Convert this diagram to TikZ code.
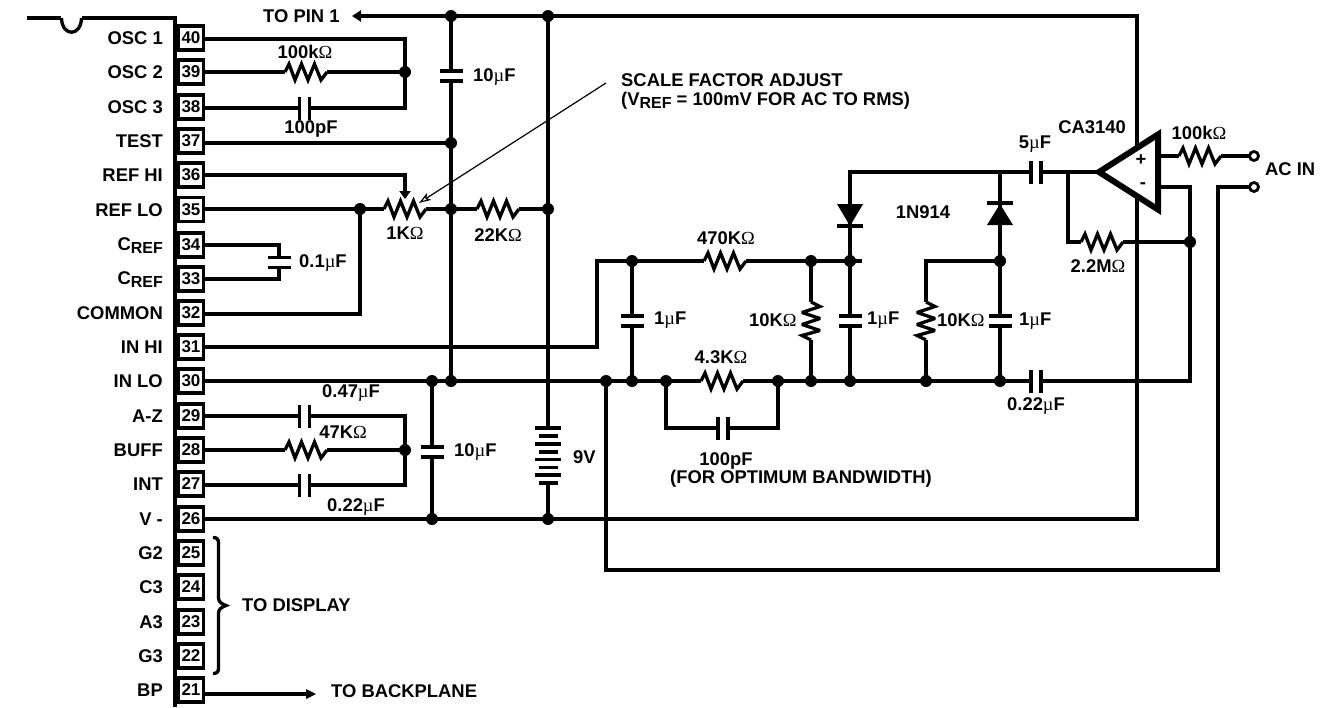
\documentclass[tikz,border=0pt]{standalone}
\usepackage{fontspec}
\setmainfont{Liberation Sans}
\newfontfamily\symf{Liberation Serif}
\usetikzlibrary{arrows.meta,calc}
\newcommand{\Om}{{\symf\mdseries Ω}}
\newcommand{\mic}{{\symf\mdseries µ}}
\newcommand{\ssub}[1]{\raisebox{-3.5pt}{\fontsize{16}{16}\selectfont #1}}
\tikzset{
  wire/.style={line width=3.3pt,line join=miter},
  pinbox/.style={draw,line width=3.6pt,fill=white,minimum width=25pt,minimum height=24pt,inner sep=0pt,font=\fontsize{17}{17}\selectfont\bfseries},
  lbl/.style={inner sep=0pt,font=\fontsize{18.4}{19}\selectfont\bfseries},
  pinlbl/.style={lbl,anchor=base east},
  dot/.style={circle,fill=black,inner sep=0pt,minimum size=12pt},
  term/.style={circle,draw,line width=2.8pt,fill=white,inner sep=0pt,minimum size=9pt},
  plate/.style={line width=3.4pt}
}
% horizontal resistor centred at x,y: name-a, name-b
\newcommand{\resH}[3]{%
  \coordinate (#1-a) at (#2-21,#3); \coordinate (#1-b) at (#2+21,#3);
  \draw[wire,line join=miter,miter limit=3] (#1-a) -- (#2-17,#3-8) -- (#2-11,#3+8) -- (#2-4.5,#3-8) -- (#2+2,#3+8) -- (#2+8.5,#3-8) -- (#2+15,#3+8) -- (#1-b);}
\newcommand{\resV}[3]{%
  \coordinate (#1-a) at (#2,#3-19); \coordinate (#1-b) at (#2,#3+19);
  \draw[wire,line join=miter,miter limit=3] (#1-a) -- (#2+9,#3-14.5) -- (#2-9,#3-8.5) -- (#2+9,#3-2.5) -- (#2-9,#3+3.5) -- (#2+9,#3+9.5) -- (#2-9,#3+14.5) -- (#1-b);}
\newcommand{\capH}[3]{%
  \coordinate (#1-a) at (#2-5,#3); \coordinate (#1-b) at (#2+5,#3);
  \draw[plate] (#2-5,#3-11.5) -- (#2-5,#3+11.5) (#2+5,#3-11.5) -- (#2+5,#3+11.5);}
\newcommand{\capV}[3]{%
  \coordinate (#1-a) at (#2,#3-5); \coordinate (#1-b) at (#2,#3+5);
  \draw[plate] (#2-11.5,#3-5) -- (#2+11.5,#3-5) (#2-11.5,#3+5) -- (#2+11.5,#3+5);}
\begin{document}
\begin{tikzpicture}[x=1pt,y=-1pt]
\useasboundingbox (0,0) rectangle (1328,707);
\fill[white] (0,0) rectangle (1328,707);

% IC body
\draw[wire] (27,18) -- (61,18) (82,18) -- (175,18) -- (175,707);
\draw[wire] (61.5,18) .. controls (62,37) and (81,37) .. (81.5,18);
\foreach \n/\y in {40/38,39/72,38/107,37/141,36/175,35/209.5,34/245,33/279,32/313,31/347,30/381,29/416,28/450,27/484,26/519,25/553,24/587,23/622,22/656,21/690}
  \node[pinbox] (p\n) at (191,\y) {\n};
\foreach \t/\y in {OSC 1/44,OSC 2/78,OSC 3/113,TEST/147,REF HI/181,REF LO/216,COMMON/319,IN HI/353,IN LO/387,A-Z/422,BUFF/456,INT/490,V -/525,G2/559,C3/593,A3/628,G3/662,BP/696}
  \node[pinlbl] at (163,\y) {\t};
\node[pinlbl] at (163,250) {C\ssub{REF}};
\node[pinlbl] at (163,284) {C\ssub{REF}};

% junctions
\foreach \nm/\x/\y in {jA/451/16,jB/548/16,jC/405/72,jD/451/143,jE/360/209,jF/451/209,jG/548/209,
  jH/632/261,jI/811/261,jJ/850/261,jK/1000/261,jL/1190/242,
  jM/432/381,jN/451/381,jO/606/381,jP/632/381,jQ/666/381,jR/778/381,jS/811/381,jT/850/381,jU/926/381,jV/1000/381,
  jW/405/450,jX/432/519,jY/548/519}
  \coordinate (\nm) at (\x,\y);

% components
\resH{r1}{306}{72}
\capH{c1}{304.5}{108}
\capV{c2}{451}{76}
\resH{r2}{405}{209}
\resH{r3}{498}{209}
\capV{c3}{279}{262.5}
\resH{r4}{306}{450}
\capH{c4}{304.5}{416}
\capH{c5}{304.5}{485}
\capV{c6}{432}{452}
\resH{r5}{725}{261}
\capV{c7}{632}{321}
\resV{r6}{811}{321}
\capV{c8}{850}{321}
\resV{r7}{926}{321}
\capV{c9}{1000}{321}
\resH{r8}{722}{381}
\capH{c10}{723}{428}
\capH{c11}{1036}{381}
\capH{c12}{1036}{172}
\resH{r9}{1102}{242}
\resH{r10}{1200}{156}

% wires
\draw[wire,{Triangle[length=9pt,width=11pt]}-] (352,16) -- (jA) -- (jB) -- (1137,16) -- (1137,519) -- (jY) -- (jX) -- (p26.east |- jX);
\draw[wire] (p40.east |- 0,39) -- (405,39) -- (405,108) -- (c1-b);
\draw[wire] (c1-a) -- (p38.east |- c1-a);
\draw[wire] (p39.east |- r1-a) -- (r1-a) (r1-b) -- (jC);
\draw[wire] (p37.east |- jD) -- (jD);
\draw[wire,-{Triangle[length=8pt,width=11pt]}] (p36.east |- 0,175) -- (405,175) -- (405,199);
\draw[wire] (p35.east |- jE) -- (jE) -- (r2-a) (r2-b) -- (jF) -- (r3-a) (r3-b) -- (jG);
\draw[wire] (p34.east |- 0,245) -- (279,245) -- (c3-a) (c3-b) -- (279,279) -- (p33.east |- 0,279);
\draw[wire] (p32.east |- 0,314) -- (360,314) -- (jE);
\draw[wire] (jA) -- (c2-a) (c2-b) -- (jD) -- (jN);
\draw[wire] (jB) -- (jG) -- (548,428);
\draw[wire] (548,483) -- (jY);
\foreach \y/\w in {428/13,436/9.5,444/13,452/9.5,459.5/13,467.5/9.5,475/13,483/9.5}
  \draw[plate] (548-\w,\y) -- (548+\w,\y);
\draw[wire] (p31.east |- 0,347) -- (597,347) -- (597,261) -- (jH) -- (r5-a) (r5-b) -- (jI) -- (jJ) -- (862,261);
\draw[wire] (p30.east |- jM) -- (jM) -- (jN) -- (jO) -- (jP) -- (jQ) -- (r8-a) (r8-b) -- (jR) -- (jS) -- (jT) -- (jU) -- (jV) -- (c11-a) (c11-b) -- (1190,381) -- (jL) -- (1190,187) -- (1160,187);
\draw[wire] (jM) -- (c6-a) (c6-b) -- (jX);
\draw[wire] (p29.east |- c4-a) -- (c4-a) (c4-b) -- (405,416) -- (405,485) -- (c5-b) (c5-a) -- (p27.east |- c5-a);
\draw[wire] (p28.east |- r4-a) -- (r4-a) (r4-b) -- (jW);
\draw[wire] (jH) -- (c7-a) (c7-b) -- (jP);
\draw[wire] (jI) -- (r6-a) (r6-b) -- (jS);
\draw[wire] (jJ) -- (c8-a) (c8-b) -- (jT);
\draw[wire] (jJ) -- (850,172) -- (c12-a) (c12-b) -- (1096,172);
\draw[wire] (jU) -- (r7-b) (r7-a) -- (926,261) -- (jK);
\draw[wire] (jV) -- (c9-b) (c9-a) -- (jK) -- (1000,172);
\draw[wire] (jQ) -- (666,428) -- (c10-a) (c10-b) -- (778,428) -- (jR);
\draw[wire] (1068,172) -- (1068,242) -- (r9-a) (r9-b) -- (jL);
\draw[wire] (jO) -- (606,570) -- (1218,570) -- (1218,187) -- (1249,187);
\draw[wire] (1158,156) -- (r10-a) (r10-b) -- (1249,156);
\draw[wire] (p21.east |- 0,694) -- (308,694);
\fill (316,694) -- (306,689) -- (306,699) -- cycle;

% dots
\foreach \nm in {jA,jB,jC,jD,jE,jF,jG,jH,jI,jJ,jK,jL,jM,jN,jO,jP,jQ,jR,jS,jT,jU,jV,jW,jX,jY}
  \node[dot] at (\nm) {};

% terminals
\node[term] (t1) at (1254,156) {};
\node[term] (t2) at (1254,187) {};

% diodes
\fill (837,204) -- (863,204) -- (850,226) -- cycle;
\draw[plate] (837,226) -- (863,226);
\fill (987,225) -- (1013,225) -- (1000,204) -- cycle;
\draw[plate] (987,203) -- (1013,203);

% op amp
\draw[line width=6pt,fill=white,miter limit=6] (1099,172) -- (1158,134.5) -- (1158,209.5) -- cycle;
\node[lbl] at (1141,160) {+};
\node[lbl] at (1143,186) {-};

% pointer
\coordinate (ptr) at (606,83);
\draw[line width=1.2pt,-{Stealth[open,fill=white,length=12pt,width=8pt,inset=3pt]}] (ptr) -- (419,203);

% brace
\draw[line width=3.3pt] (213,537.5) .. controls (217,537.5) and (218.5,539) .. (218.5,543) -- (218.5,598) .. controls (218.5,602) and (222,604) .. (226,605.5) .. controls (222,607) and (218.5,609) .. (218.5,613) -- (218.5,668) .. controls (218.5,672) and (217,673.5) .. (213,673.5);

% labels
\node[lbl,anchor=west] at (263,16) {TO PIN 1};
\node[lbl] at (305,52) {100k\Om};
\node[lbl] at (311,129) {100pF};
\node[lbl] at (405,233) {1K\Om};
\node[lbl] at (498,235) {22K\Om};
\node[lbl,anchor=west] at (473,77) {10\mic F};
\node[lbl,anchor=west] at (299,263) {0.1\mic F};
\node[lbl] at (351,393) {0.47\mic F};
\node[lbl] at (343,432) {47K\Om};
\node[lbl] at (356,507) {0.22\mic F};
\node[lbl,anchor=west] at (454,452) {10\mic F};
\node[lbl,anchor=west] at (573,457) {9V};
\node[lbl,anchor=west] at (242,605) {TO DISPLAY};
\node[lbl,anchor=west] at (331,691) {TO BACKPLANE};
\node[lbl,anchor=west] (s1) at (621,80) {SCALE FACTOR ADJUST};
\node[lbl,anchor=base west] (s2) at (621,105) {(V\ssub{REF} = 100mV FOR AC TO RMS)};
\node[lbl] at (726,238) {470K\Om};
\node[lbl,anchor=west] at (654,320) {1\mic F};
\node[lbl,anchor=west] at (749,320) {10K\Om};
\node[lbl,anchor=west] at (867,320) {1\mic F};
\node[lbl,anchor=west] at (937,320) {10K\Om};
\node[lbl,anchor=west] at (1019,321) {1\mic F};
\node[lbl] at (721,357) {4.3K\Om};
\node[lbl] at (726,461) {100pF};
\node[lbl] at (801,479) {(FOR OPTIMUM BANDWIDTH)};
\node[lbl] at (923,212) {1N914};
\node[lbl] at (1092,127) {CA3140};
\node[lbl] at (1035,144) {5\mic F};
\node[lbl] at (1199,133) {100k\Om};
\node[lbl,anchor=west] at (1265,169) {AC IN};
\node[lbl] at (1098,266) {2.2M\Om};
\node[lbl] at (1036,406) {0.22\mic F};
\end{tikzpicture}
\end{document}
